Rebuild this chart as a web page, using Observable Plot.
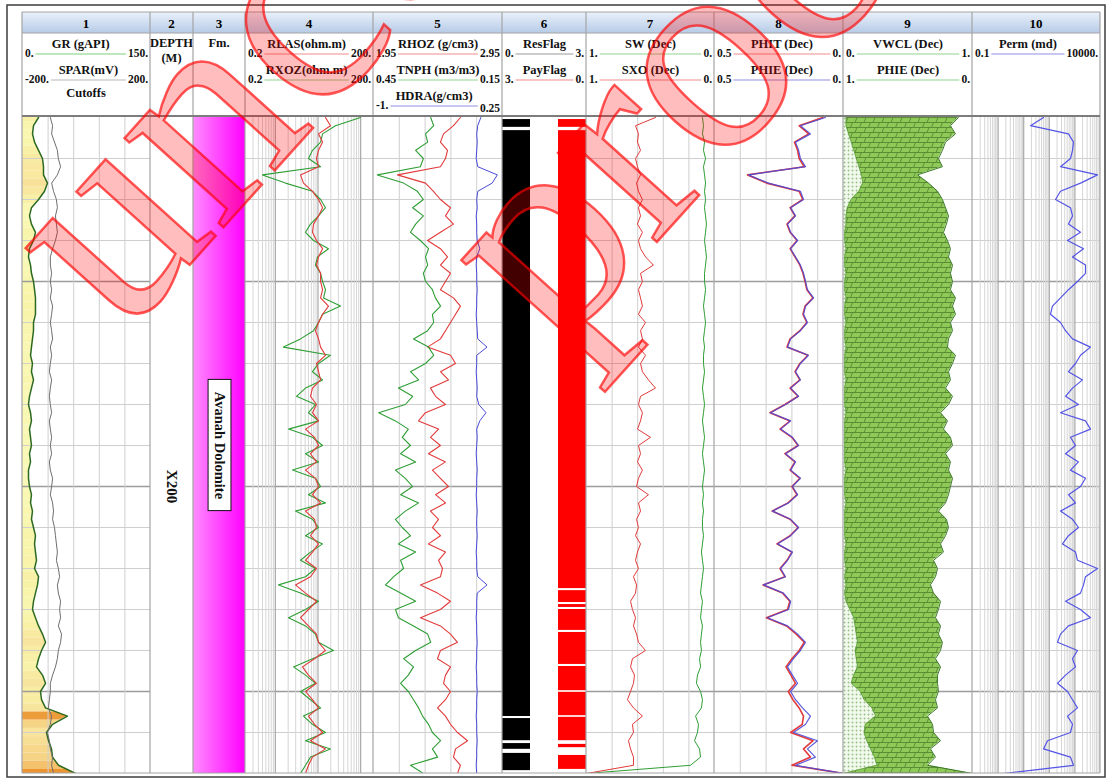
<!DOCTYPE html>
<html>
<head>
<meta charset="utf-8">
<script src="https://cdn.jsdelivr.net/npm/d3@7"></script>
<script src="https://cdn.jsdelivr.net/npm/@observablehq/plot@0.6"></script>
<style>
  html, body { margin: 0; padding: 0; background: #fff; }
  #page { position: relative; width: 1108px; height: 779px; overflow: hidden; font-family: "Liberation Serif", "DejaVu Serif", serif; }
  .track { position: absolute; overflow: hidden; background: #fff; }
  .track svg { position: absolute; left: 0; top: 0; }
  .overlay { position: absolute; left: 0; top: 0; pointer-events: none; }
</style>
</head>
<body>
<div id="page"></div>
<script>
// ---------- Depth samples (m) ----------
const depth = [
  2110,2112,2114,2116,2118,2120,2122,2124,2126,2128,
  2130,2132,2134,2136,2138,2140,2142,2144,2146,2148,
  2150,2152,2154,2156,2158,2160,2162,2164,2166,2168,
  2170,2172,2174,2176,2178,2180,2182,2184,2186,2188,
  2190,2192,2194,2196,2198,2200,2202,2204,2206,2208,
  2210,2212,2214,2216,2218,2220,2222,2224,2226,2228,
  2230,2232,2234,2236,2238,2240,2242,2244,2246,2248,
  2250,2252,2254,2256,2258,2260,2262,2264,2266,2268,
  2270];

// Track 1: gamma ray (gAPI) and SP (mV)
const GR = [
  18.8,12.9,11.7,14.1,18.8,23.4,24.6,24.6,29.3,25.8,
  18.8,10.5,8.2,10.5,15.2,12.9,8.2,7.0,9.4,10.5,
  12.9,14.1,15.2,15.2,15.2,12.9,12.9,11.7,10.5,9.4,
  11.7,10.5,12.9,10.5,8.2,7.0,9.4,10.5,8.2,9.4,
  10.5,8.2,9.4,7.0,7.0,8.2,10.5,9.4,11.7,10.5,
  12.9,15.2,14.1,15.2,16.4,14.1,18.8,17.6,15.2,12.9,
  11.7,15.2,18.8,23.4,27.0,22.3,18.8,16.4,23.4,27.0,
  21.1,22.3,27.0,52.7,35.2,28.1,30.5,34.0,35.2,42.2,
  62.1];
const SPAR = [
  -113,-106,-109,-100,-91,-88,-81,-91,-109,-103,
  -94,-91,-97,-94,-91,-97,-106,-113,-113,-109,
  -113,-109,-113,-106,-109,-113,-109,-106,-113,-109,
  -113,-116,-109,-113,-116,-113,-109,-116,-113,-109,
  -113,-109,-116,-113,-106,-109,-113,-106,-103,-106,
  -100,-97,-94,-91,-94,-88,-84,-91,-88,-81,
  -84,-81,-88,-78,-81,-88,-91,-97,-106,-113,
  -113,-116,-119,-109,-113,-122,-116,-113,-106,-109,
  -103];

// Track 4: resistivities (ohm.m)
const RLAS = [
  15.0,19.6,10.3,12.8,10.3,9.22,10.3,3.89,4.57,7.43,
  10.3,12.8,10.3,7.85,7.43,9.22,12.8,10.3,9.22,11.5,
  11.5,12.8,11.5,17.6,12.8,10.3,8.74,10.3,11.5,15.0,
  9.22,10.3,11.5,7.43,6.67,9.22,7.43,10.3,5.10,8.28,
  10.3,6.67,9.22,5.10,8.74,10.3,7.43,11.5,5.10,8.28,
  9.22,6.67,10.3,7.43,5.10,9.22,6.67,2.97,5.10,9.22,
  5.99,3.89,5.99,9.22,10.3,15.0,8.28,4.33,5.99,9.22,
  5.10,7.43,10.3,5.99,8.28,12.8,6.67,15.0,7.43,5.99,
  5.10];
const RXOZ = [
  99,25.7,12.8,11.5,7.43,5.99,11.5,0.50,1.73,7.43,
  11.5,15.0,10.3,6.67,5.10,7.85,17.6,9.74,8.74,11.5,
  12.8,15.0,13.5,33.7,12.8,10.3,7.85,3.89,1.55,19.6,
  10.3,7.43,12.8,5.10,3.13,8.74,5.99,10.3,2.04,7.43,
  12.8,5.10,10.3,2.53,8.74,11.5,5.99,15.0,2.97,7.43,
  10.3,5.10,12.8,6.67,3.89,8.74,5.10,1.19,3.89,10.3,
  5.10,2.04,5.10,8.74,10.3,23.1,7.43,2.67,5.10,8.74,
  3.89,6.67,11.5,4.57,7.43,15.0,5.10,19.6,6.67,5.10,
  3.89];

// Track 5: density, neutron, density correction
const RHOZ = [
  2.624,2.570,2.493,2.469,2.524,2.508,2.469,2.136,2.353,2.415,
  2.469,2.547,2.508,2.570,2.469,2.369,2.469,2.524,2.469,2.547,
  2.508,2.469,2.570,2.624,2.586,2.547,2.508,2.469,2.369,2.547,
  2.586,2.469,2.531,2.392,2.431,2.508,2.353,2.299,2.454,2.392,
  2.469,2.376,2.508,2.407,2.469,2.531,2.431,2.508,2.392,2.454,
  2.407,2.469,2.376,2.508,2.454,2.485,2.469,2.314,2.446,2.547,
  2.469,2.314,2.469,2.547,2.601,2.469,2.446,2.547,2.508,2.493,
  2.547,2.508,2.446,2.508,2.547,2.601,2.679,2.586,2.570,2.624,
  2.601];
const TNPH = [
  0.317,0.310,0.329,0.324,0.352,0.334,0.341,0.441,0.380,0.348,
  0.334,0.359,0.334,0.352,0.364,0.341,0.322,0.329,0.324,0.334,
  0.329,0.313,0.306,0.294,0.313,0.310,0.324,0.357,0.322,0.310,
  0.329,0.364,0.345,0.392,0.359,0.376,0.438,0.399,0.369,0.383,
  0.364,0.387,0.352,0.399,0.376,0.359,0.387,0.345,0.376,0.399,
  0.383,0.364,0.392,0.352,0.387,0.380,0.403,0.422,0.387,0.352,
  0.399,0.392,0.357,0.324,0.317,0.352,0.380,0.357,0.369,0.387,
  0.369,0.357,0.345,0.336,0.322,0.313,0.294,0.313,0.301,0.364,
  0.334];
const HDRA = [
  0.04,0.01,0.0,0.005,0.0,-0.005,0.01,0.2,0.15,0.01,
  0.0,0.005,-0.005,0.0,0.0,0.005,0.03,0.0,-0.005,0.0,
  0.0,0.005,0.0,0.0,-0.005,0.0,0.005,0.01,0.1,0.0,
  0.0,-0.005,0.0,0.005,0.0,0.02,0.09,0.03,0.0,0.005,
  0.0,-0.005,0.0,0.005,0.0,0.0,-0.005,0.0,0.005,0.0,
  0.0,0.005,0.0,-0.005,0.0,0.0,0.01,0.1,0.005,0.0,
  0.0,-0.005,0.0,0.0,0.005,0.0,0.0,-0.005,0.0,0.0,
  0.005,0.0,0.0,-0.005,0.0,0.0,0.005,0.0,0.0,-0.005,
  0.0];

// Track 6: reservoir and pay flag intervals (depth top / base)
const resTop  = [2110.5, 2113.2, 2256.6, 2262.7, 2265.1];
const resBase = [2112.4, 2256.1, 2262.0, 2264.1, 2269.3];
const resFlag = [1, 1, 1, 1, 1];
const payTop  = [2110.5, 2113.2, 2225.4, 2228.8, 2230.0, 2235.6, 2243.9, 2250.2, 2256.3, 2262.9, 2265.6];
const payBase = [2112.4, 2224.9, 2228.3, 2229.5, 2235.1, 2243.4, 2249.8, 2255.9, 2262.0, 2263.7, 2269.0];
const payFlag = [1, 1, 1, 1, 1, 1, 1, 1, 1, 1, 1];

// Track 7: water saturations
const SW = [
  0.094,0.086,0.094,0.078,0.086,0.070,0.086,0.078,0.070,0.078,
  0.070,0.078,0.070,0.063,0.070,0.078,0.070,0.063,0.070,0.078,
  0.078,0.070,0.078,0.086,0.078,0.070,0.078,0.086,0.078,0.086,
  0.086,0.078,0.086,0.094,0.086,0.078,0.086,0.094,0.086,0.078,
  0.086,0.094,0.086,0.078,0.086,0.094,0.086,0.094,0.086,0.094,
  0.094,0.086,0.094,0.102,0.094,0.086,0.094,0.102,0.109,0.094,
  0.102,0.109,0.094,0.102,0.109,0.102,0.117,0.109,0.133,0.141,
  0.109,0.094,0.102,0.148,0.125,0.133,0.156,0.117,0.109,0.188,
  1.0];
const SXO = [
  0.461,0.617,0.594,0.602,0.578,0.617,0.602,0.578,0.609,0.594,
  0.563,0.594,0.578,0.602,0.563,0.594,0.578,0.539,0.477,0.578,
  0.563,0.594,0.578,0.563,0.594,0.539,0.578,0.563,0.594,0.539,
  0.578,0.563,0.516,0.461,0.578,0.594,0.563,0.578,0.602,0.500,
  0.594,0.578,0.602,0.563,0.594,0.609,0.516,0.594,0.578,0.609,
  0.594,0.617,0.578,0.602,0.617,0.594,0.633,0.609,0.617,0.656,
  0.641,0.617,0.633,0.609,0.594,0.539,0.641,0.656,0.625,0.633,
  0.656,0.680,0.633,0.563,0.641,0.633,0.672,0.656,0.633,0.633,
  1.0];

// Track 8: porosities
const PHIT = [
  0.080,0.172,0.135,0.190,0.178,0.172,0.152,0.372,0.298,0.172,
  0.158,0.207,0.188,0.219,0.207,0.180,0.207,0.188,0.169,0.157,
  0.149,0.142,0.118,0.149,0.157,0.142,0.169,0.207,0.219,0.138,
  0.169,0.188,0.169,0.207,0.176,0.227,0.285,0.207,0.246,0.200,
  0.176,0.227,0.188,0.207,0.169,0.200,0.180,0.215,0.277,0.207,
  0.176,0.207,0.258,0.200,0.219,0.246,0.227,0.312,0.236,0.208,
  0.217,0.299,0.221,0.183,0.152,0.172,0.200,0.223,0.204,0.186,
  0.214,0.196,0.172,0.155,0.160,0.205,0.118,0.155,0.128,0.200,
  0.0];
const PHIE = [
  0.070,0.167,0.128,0.186,0.174,0.167,0.147,0.368,0.291,0.167,
  0.155,0.205,0.186,0.217,0.205,0.178,0.205,0.186,0.167,0.155,
  0.147,0.140,0.116,0.147,0.155,0.140,0.167,0.205,0.217,0.136,
  0.167,0.186,0.167,0.205,0.174,0.225,0.283,0.205,0.244,0.198,
  0.174,0.225,0.186,0.205,0.167,0.198,0.178,0.213,0.275,0.205,
  0.174,0.205,0.256,0.198,0.217,0.244,0.225,0.310,0.233,0.205,
  0.213,0.295,0.217,0.178,0.147,0.167,0.194,0.217,0.198,0.178,
  0.205,0.186,0.159,0.128,0.147,0.194,0.101,0.140,0.109,0.186,
  0.0];

// Track 9: clay volume and effective porosity on the volumetric display
const VWCL = [
  0.02,0.02,0.04,0.06,0.08,0.10,0.12,0.14,0.15,0.12,
  0.06,0.03,0.02,0.02,0.01,0.01,0.02,0.01,0.01,0.02,
  0.01,0.01,0.02,0.01,0.01,0.02,0.01,0.01,0.02,0.01,
  0.01,0.01,0.02,0.01,0.01,0.01,0.02,0.01,0.01,0.01,
  0.01,0.01,0.01,0.02,0.01,0.01,0.01,0.02,0.01,0.01,
  0.01,0.01,0.02,0.01,0.01,0.02,0.01,0.02,0.01,0.02,
  0.05,0.08,0.09,0.10,0.11,0.09,0.10,0.11,0.08,0.06,
  0.13,0.16,0.22,0.25,0.17,0.16,0.18,0.21,0.24,0.26,
  0.0];
const PHIE_VOL = [
  0.109,0.171,0.132,0.209,0.233,0.264,0.233,0.426,0.341,0.271,
  0.233,0.209,0.186,0.202,0.225,0.194,0.171,0.186,0.155,0.171,
  0.155,0.171,0.132,0.155,0.132,0.171,0.155,0.186,0.194,0.132,
  0.155,0.186,0.171,0.209,0.155,0.186,0.248,0.194,0.225,0.171,
  0.155,0.209,0.171,0.186,0.155,0.171,0.186,0.209,0.264,0.202,
  0.186,0.209,0.248,0.225,0.302,0.271,0.287,0.326,0.302,0.248,
  0.264,0.287,0.248,0.264,0.233,0.248,0.287,0.248,0.271,0.271,
  0.264,0.287,0.271,0.349,0.310,0.302,0.248,0.326,0.287,0.349,
  0.0];

// Track 10: permeability (md)
const PERM = [
  59.3,18.5,562,881,806,673,274,7638,1655,274,
  175,673,806,562,1655,514,2168,806,2595,2595,
  1264,562,274,133,111,274,430,806,4064,1655,
  1055,562,1982,806,430,1382,274,2595,4064,673,
  1055,430,1382,673,2595,1655,562,1055,274,806,
  1382,562,328,1055,1264,7638,2595,2168,1655,430,
  1655,4064,562,274,209,1264,806,1055,430,209,
  514,806,1264,514,806,673,85.1,59.3,673,881,
  1.63];

// Formation
const fmTop = [2110];
const fmBase = [2270];
const fmName = ["Avanah Dolomite"];

// Depth annotation
const depthLabels = [2200];

// ---------- Header text ----------
const trackNumbers = ["1","2","3","4","5","6","7","8","9","10"];
const legendTrack = [0,0,3,3,4,4,4,5,5,6,6,7,7,8,8,9];
const legendRow   = [0,1,0,1,0,1,2,0,1,0,1,0,1,0,1,0];
const legendName  = ["GR (gAPI)","SPAR(mV)","RLAS(ohm.m)","RXOZ(ohm.m)","RHOZ (g/cm3)","TNPH (m3/m3)","HDRA(g/cm3)","ResFlag","PayFlag","SW (Dec)","SXO (Dec)","PHIT (Dec)","PHIE (Dec)","VWCL (Dec)","PHIE (Dec)","Perm (md)"];
const legendLo    = ["0.","-200.","0.2","0.2","1.95","0.45","-1.","0.","3.","1.","1.","0.5","0.5","0.","1.","0.1"];
const legendHi    = ["150.","200.","200.","200.","2.95","0.15","0.25","3.","0.","0.","0.","0.","0.","1.","0.","10000."];
const headerNotes = [{track: 0, text: "Cutoffs", y: 97}, {track: 1, text: "DEPTH", y: 47}, {track: 1, text: "(M)", y: 62}, {track: 2, text: "Fm.", y: 47}];
const watermarkText = ["uncorrected", "proof"];

// ---------- Styling and layout ----------
const C = {
  gr: "#2d6a1e", spar: "#6e6e6e", red: "#e23a3a", green: "#2f9e35", blue: "#4a4ad8",
  grid: "#cfcfcf", major: "#9c9c9c", border: "#a4a4a4"
};
const legendColor = ["#7fcf7f","#b8b8b8","#f08c8c","#8fd48f","#f08c8c","#8fd48f","#8f8fe0","#9a9a9a","#f08c8c","#8fd48f","#f08c8c","#f08c8c","#8f8fe0","#8fd48f","#8fd48f","#8f8fe0"];
const edges = [22,150,193,245,373,502,586,714,843,972,1100];
const TOP = 117, H = 656;
const rowNameY = [48, 74, 100], rowLineY = [54, 80, 106];

const rows = depth.map((d, i) => ({
  d, gr: GR[i], spar: SPAR[i], rlas: RLAS[i], rxoz: RXOZ[i], rhoz: RHOZ[i], tnph: TNPH[i], hdra: HDRA[i],
  sw: SW[i], sxo: SXO[i], phit: PHIT[i], phie: PHIE[i], vwcl: VWCL[i], phiv: PHIE_VOL[i], perm: PERM[i]
}));
const resRows = resTop.map((t, i) => ({top: t, base: resBase[i], flag: resFlag[i]}));
const payRows = payTop.map((t, i) => ({top: t, base: payBase[i], flag: payFlag[i]}));
const fmRows = fmTop.map((t, i) => ({top: t, base: fmBase[i], name: fmName[i], mid: (t + fmBase[i]) / 2}));

const dom = k => [parseFloat(legendLo[k]), parseFloat(legendHi[k])];

// depth grid every 10 m, heavier every 50 m
const gridDepth = d3.range(2120, 2270, 10);
const minorDepth = gridDepth.filter(d => d % 50 !== 0);
const majorDepth = gridDepth.filter(d => d % 50 === 0);
const depthGrid = () => [
  Plot.ruleY(minorDepth, {stroke: C.grid, strokeWidth: 1}),
  Plot.ruleY(majorDepth, {stroke: C.major, strokeWidth: 1.4})
];
const linGrid = ([a, b]) => Plot.ruleX([1, 2, 3, 4].map(k => a + (b - a) * k / 5), {stroke: C.grid, strokeWidth: 1});
function logGrid([a, b]) {
  const minor = [], decade = [];
  for (let e = -2; e <= 5; e++) for (let m = 1; m < 10; m++) {
    const v = +(m * Math.pow(10, e)).toPrecision(3);
    if (v > a * 1.0001 && v < b * 0.9999) (m === 1 ? decade : minor).push(v);
  }
  return [Plot.ruleX(minor, {stroke: "#d6d6d6", strokeWidth: 1}), Plot.ruleX(decade, {stroke: "#a8a8a8", strokeWidth: 1.2})];
}

function layer(w, x, marks, extra = {}) {
  return Plot.plot({
    width: w, height: H, margin: 0,
    style: {background: "transparent", overflow: "hidden"},
    x: {...x, axis: null},
    y: {domain: [2110, 2270], range: [0, H], axis: null},
    marks, ...extra
  });
}

const page = d3.select("#page");

// ---------- Header ----------
const hdr = page.append("svg").attr("class", "overlay").attr("width", 1108).attr("height", 779);
const hdefs = hdr.append("defs");
const hg = hdefs.append("linearGradient").attr("id", "hdrGrad").attr("x1", 0).attr("x2", 0).attr("y1", 0).attr("y2", 1);
hg.append("stop").attr("offset", 0).attr("stop-color", "#eaf1fa");
hg.append("stop").attr("offset", 1).attr("stop-color", "#b6cbe7");
hdr.append("rect").attr("x", edges[0]).attr("y", 12).attr("width", edges[10] - edges[0]).attr("height", 21).attr("fill", "url(#hdrGrad)");
trackNumbers.forEach((t, i) => {
  hdr.append("text").attr("x", (edges[i] + edges[i + 1]) / 2).attr("y", 27.5).attr("text-anchor", "middle")
    .attr("font-family", "Liberation Serif").attr("font-weight", "bold").attr("font-size", 13).text(t);
});
const hfont = sel => sel.attr("font-family", "Liberation Serif").attr("font-weight", "bold").attr("fill", "#111");
legendName.forEach((name, k) => {
  const t = legendTrack[k], r = legendRow[k];
  const L = edges[t], R = edges[t + 1];
  const lo = hdr.append("text").call(hfont).attr("font-size", 11.5).attr("x", L + 3).attr("y", rowLineY[r] + 3).text(legendLo[k]);
  const hi = hdr.append("text").call(hfont).attr("font-size", 11.5).attr("x", R - 2).attr("y", rowLineY[r] + 3 + (r === 2 ? 3 : 0)).attr("text-anchor", "end").text(legendHi[k]);
  const lw = lo.node().getComputedTextLength(), hw = hi.node().getComputedTextLength();
  const x1 = L + 3 + lw + 2, x2 = R - 2 - hw - 2;
  hdr.append("line").attr("x1", x1).attr("x2", x2).attr("y1", rowLineY[r]).attr("y2", rowLineY[r]).attr("stroke", legendColor[k]).attr("stroke-width", 1.2);
  hdr.append("text").call(hfont).attr("font-size", 12.5).attr("x", (x1 + x2) / 2).attr("y", rowNameY[r]).attr("text-anchor", "middle").text(name);
});
headerNotes.forEach(n => {
  hdr.append("text").call(hfont).attr("font-size", 12.5).attr("x", (edges[n.track] + edges[n.track + 1]) / 2).attr("y", n.y).attr("text-anchor", "middle").text(n.text);
});

// ---------- Tracks ----------
function addTrack(i, layers) {
  const div = page.append("div").attr("class", "track")
    .style("left", edges[i] + "px").style("top", TOP + "px")
    .style("width", (edges[i + 1] - edges[i]) + "px").style("height", H + "px");
  layers.forEach(svg => div.node().appendChild(svg));
}
const W = i => edges[i + 1] - edges[i];

// 1: GR with shaded fill, SPAR
addTrack(0, [
  layer(W(0), {domain: dom(0)}, [
    Plot.rect(rows, {x1: 0, x2: 150, y1: r => r.d - 1, y2: r => r.d + 1, fill: "gr"}),
    Plot.areaX(rows, {y: "d", x1: "gr", x2: 150, fill: "white"}),
    ...depthGrid(),
    linGrid(dom(0)),
    Plot.lineX(rows, {x: "gr", y: "d", stroke: C.gr, strokeWidth: 1.5})
  ], {color: {type: "linear", domain: [0, 15, 28, 40, 55], range: ["#fbfbc6", "#f8f5aa", "#f8e49c", "#f5c978", "#ec9430"], clamp: true}}),
  layer(W(0), {domain: dom(1)}, [
    Plot.lineX(rows, {x: "spar", y: "d", stroke: C.spar, strokeWidth: 1})
  ])
]);

// 2: depth
addTrack(1, [
  layer(W(1), {domain: [0, 1]}, [
    Plot.text(depthLabels, {x: 0.5, y: d => d, text: d => "X" + String(d).slice(1), rotate: 90,
      fontSize: 15, fontWeight: "bold", fontFamily: "Liberation Serif", fill: "#111"})
  ])
]);

// 3: formation
const fmDefs = () => {
  const defs = d3.create("svg:defs");
  const g = defs.append("linearGradient").attr("id", "fmGrad").attr("x1", 0).attr("x2", 1).attr("y1", 0).attr("y2", 0);
  g.append("stop").attr("offset", 0).attr("stop-color", "#ff8cff");
  g.append("stop").attr("offset", 1).attr("stop-color", "#ff00ff");
  return defs.node();
};
addTrack(2, [
  layer(W(2), {domain: [0, 1]}, [
    fmDefs,
    Plot.rect(fmRows, {x1: 0, x2: 1, y1: "top", y2: "base", fill: "url(#fmGrad)"}),
    Plot.rect(fmRows, {x1: 0.29, x2: 0.73, y1: r => r.mid - 16, y2: r => r.mid + 16, fill: "white", stroke: "#111", strokeWidth: 1}),
    Plot.text(fmRows, {x: 0.51, y: "mid", text: "name", rotate: 90, fontSize: 14.5, fontWeight: "bold", fontFamily: "Liberation Serif", fill: "#111"})
  ])
]);

// 4: resistivities
addTrack(3, [
  layer(W(3), {type: "log", domain: dom(2)}, [
    ...depthGrid(),
    ...logGrid(dom(2)),
    Plot.lineX(rows, {x: "rxoz", y: "d", stroke: C.green, strokeWidth: 1.1}),
    Plot.lineX(rows, {x: "rlas", y: "d", stroke: C.red, strokeWidth: 1.1})
  ])
]);

// 5: density / neutron / correction
addTrack(4, [
  layer(W(4), {domain: dom(4)}, [
    ...depthGrid(),
    linGrid(dom(4)),
    Plot.lineX(rows, {x: "rhoz", y: "d", stroke: C.red, strokeWidth: 1.1})
  ]),
  layer(W(4), {domain: dom(5)}, [
    Plot.lineX(rows, {x: "tnph", y: "d", stroke: C.green, strokeWidth: 1.1})
  ]),
  layer(W(4), {domain: dom(6)}, [
    Plot.lineX(rows, {x: "hdra", y: "d", stroke: C.blue, strokeWidth: 1})
  ])
]);

// 6: flags
addTrack(5, [
  layer(W(5), {domain: dom(7)}, [
    Plot.rect(resRows, {x1: 0, x2: "flag", y1: "top", y2: "base", fill: "#000"})
  ]),
  layer(W(5), {domain: dom(8)}, [
    Plot.rect(payRows, {x1: 0, x2: "flag", y1: "top", y2: "base", fill: "#ff0000"})
  ])
]);

// 7: saturations
addTrack(6, [
  layer(W(6), {domain: dom(9)}, [
    ...depthGrid(),
    linGrid(dom(9)),
    Plot.lineX(rows, {x: "sw", y: "d", stroke: C.green, strokeWidth: 1}),
    Plot.lineX(rows, {x: "sxo", y: "d", stroke: C.red, strokeWidth: 1})
  ])
]);

// 8: porosities
addTrack(7, [
  layer(W(7), {domain: dom(11)}, [
    ...depthGrid(),
    linGrid(dom(11)),
    Plot.lineX(rows, {x: "phit", y: "d", stroke: C.red, strokeWidth: 1.6}),
    Plot.lineX(rows, {x: "phie", y: "d", stroke: C.blue, strokeWidth: 1.2, strokeOpacity: 0.9})
  ])
]);

// 9: volumetrics (dolomite matrix, clay, porosity)
const volDefs = () => {
  const defs = d3.create("svg:defs");
  const b = defs.append("pattern").attr("id", "brick").attr("patternUnits", "userSpaceOnUse").attr("width", 18).attr("height", 10);
  b.append("rect").attr("width", 18).attr("height", 10).attr("fill", "#8fca59");
  b.append("path").attr("d", "M0,0.5H18M0,5.5H18M5,0.5L3,5.5M14,0.5L12,5.5M9.5,5.5L7.5,10.5M0.5,5.5L-1.5,10.5M18.5,5.5L16.5,10.5")
    .attr("stroke", "#4f7f2d").attr("stroke-width", 0.8).attr("fill", "none");
  const c = defs.append("pattern").attr("id", "clay").attr("patternUnits", "userSpaceOnUse").attr("width", 4).attr("height", 4);
  c.append("rect").attr("width", 4).attr("height", 4).attr("fill", "#f1f8ec");
  c.append("path").attr("d", "M1.5,0.5V2.5M0.5,1.5H2.5").attr("stroke", "#93bf80").attr("stroke-width", 0.8);
  return defs.node();
};
addTrack(8, [
  layer(W(8), {domain: dom(14)}, [
    volDefs,
    ...depthGrid(),
    Plot.areaX(rows, {y: "d", x1: 1, x2: "phiv", fill: "url(#brick)"}),
    Plot.lineX(rows, {x: "phiv", y: "d", stroke: "#3c7a28", strokeWidth: 1})
  ]),
  layer(W(8), {domain: dom(13)}, [
    Plot.areaX(rows, {y: "d", x1: 0, x2: "vwcl", fill: "url(#clay)"}),
    Plot.lineX(rows, {x: "vwcl", y: "d", stroke: "#5f9f45", strokeWidth: 0.8})
  ])
]);

// 10: permeability
addTrack(9, [
  layer(W(9), {type: "log", domain: dom(15)}, [
    ...depthGrid(),
    ...logGrid(dom(15)),
    Plot.lineX(rows, {x: "perm", y: "d", stroke: "#5454e6", strokeWidth: 1.2})
  ])
]);

// ---------- Borders ----------
const brd = page.append("svg").attr("class", "overlay").attr("width", 1108).attr("height", 779);
brd.append("rect").attr("x", 7).attr("y", 5).attr("width", 1098).attr("height", 772)
  .attr("fill", "none").attr("stroke", "#3c3c3c").attr("stroke-width", 1.5);
edges.forEach(x => brd.append("line").attr("x1", x).attr("x2", x).attr("y1", 12).attr("y2", TOP + H)
  .attr("stroke", C.border).attr("stroke-width", 1.2));
[[12, C.border, 1], [33, C.border, 1], [116, "#7c7c7c", 2], [TOP + H, C.border, 1.2]].forEach(([y, s, w]) =>
  brd.append("line").attr("x1", edges[0]).attr("x2", edges[10]).attr("y1", y).attr("y2", y).attr("stroke", s).attr("stroke-width", w));

// ---------- Watermark ----------
const wm = page.append("svg").attr("class", "overlay").attr("width", 1108).attr("height", 779);
const wmPos = [[122, 340], [556, 354]];
watermarkText.forEach((t, i) => {
  wm.append("text").attr("transform", `translate(${wmPos[i][0]},${wmPos[i][1]}) rotate(-48)`)
    .attr("font-family", "Liberation Serif").attr("font-size", 290)
    .attr("fill", "rgba(255,0,0,0.26)").attr("stroke", "rgba(255,0,0,0.65)").attr("stroke-width", 2.5)
    .text(t);
});
</script>
</body>
</html>
